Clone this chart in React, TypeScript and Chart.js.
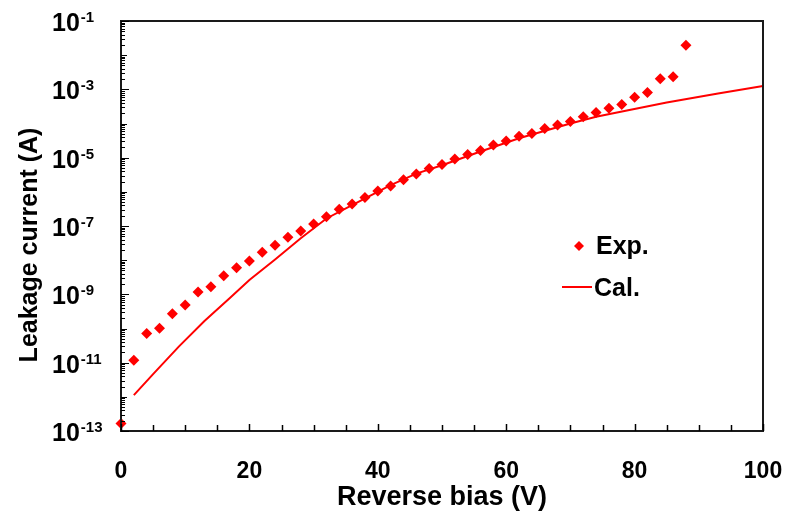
import React, { useEffect, useRef } from "react";
import { Chart, registerables } from "chart.js";

Chart.register(...registerables);

const expBias = [0, 2, 4, 6, 8, 10, 12, 14, 16, 18, 20, 22, 24, 26, 28, 30, 32, 34, 36, 38, 40, 42, 44, 46, 48, 50, 52, 54, 56, 58, 60, 62, 64, 66, 68, 70, 72, 74, 76, 78, 80, 82, 84, 86, 88];
const expCurrent = [
  1.66e-13, 1.17e-11, 7.1e-11, 1.02e-10, 2.7e-10, 4.9e-10, 1.17e-9, 1.66e-9, 3.5e-9, 6.0e-9,
  9.5e-9, 1.7e-8, 2.75e-8, 4.7e-8, 7.1e-8, 1.15e-7, 1.86e-7, 3.1e-7, 4.4e-7, 6.8e-7,
  1.05e-6, 1.48e-6, 2.24e-6, 3.3e-6, 4.8e-6, 6.3e-6, 9.1e-6, 1.23e-5, 1.62e-5, 2.34e-5,
  3.1e-5, 4.2e-5, 5.1e-5, 7.1e-5, 9.1e-5, 1.15e-4, 1.58e-4, 2.1e-4, 2.8e-4, 3.6e-4,
  5.9e-4, 8.1e-4, 2.04e-3, 2.34e-3, 1.95e-2,
];
const calBias = [2, 5, 9, 13, 17, 20, 24, 28, 32, 36, 42, 46, 50, 56, 62, 70, 74, 79, 85, 93, 100];
const calCurrent = [
  1.12e-12, 4.6e-12, 2.95e-11, 1.66e-10, 7.9e-10, 2.63e-9, 1.05e-8, 4.4e-8, 1.66e-7, 4.1e-7,
  1.58e-6, 3.4e-6, 6.0e-6, 1.51e-5, 3.7e-5, 1.0e-4, 1.58e-4, 2.45e-4, 4.1e-4, 7.6e-4, 1.26e-3,
];
const xTickLabels = [0, 20, 40, 60, 80, 100];
const yLabelExponents = [-13, -11, -9, -7, -5, -3, -1];
const xTitle = "Reverse bias (V)";
const yTitle = "Leakage current (A)";
const legendLabels = ["Exp.", "Cal."];

const FONT = '"Liberation Sans", Arial, sans-serif';
const RED = "#ff0000";

const decorPlugin = {
  id: "decor",
  afterDraw(chart: any) {
    const ctx = chart.ctx;
    const area = chart.chartArea;
    const xs = chart.scales.x;
    const ys = chart.scales.y;
    ctx.save();
    // frame
    ctx.strokeStyle = "#1a1a1a";
    ctx.lineWidth = 2;
    ctx.strokeRect(area.left, area.top, area.right - area.left, area.bottom - area.top);

    // x ticks (inward)
    ctx.lineWidth = 1.5;
    ctx.strokeStyle = "#000";
    for (let v = 0; v <= 100; v += 5) {
      const px = Math.round(xs.getPixelForValue(v)) + 0.5;
      const len = v % 20 === 0 ? 7 : 6;
      ctx.beginPath();
      ctx.moveTo(px, area.bottom);
      ctx.lineTo(px, area.bottom - len);
      ctx.stroke();
    }
    // y ticks (inward)
    ctx.lineWidth = 1;
    for (let d = -13; d <= -1; d++) {
      const major = Math.round(ys.getPixelForValue(Math.pow(10, d))) + 0.5;
      const len = d % 2 !== 0 ? 8 : 6;
      ctx.beginPath();
      ctx.moveTo(area.left, major);
      ctx.lineTo(area.left + len, major);
      ctx.stroke();
      if (d < -1) {
        for (let m = 2; m <= 9; m++) {
          const py = Math.round(ys.getPixelForValue(m * Math.pow(10, d))) + 0.5;
          ctx.beginPath();
          ctx.moveTo(area.left, py);
          ctx.lineTo(area.left + 4, py);
          ctx.stroke();
        }
      }
    }

    // x tick labels
    ctx.fillStyle = "#000";
    ctx.font = `bold 23px ${FONT}`;
    ctx.textAlign = "center";
    ctx.textBaseline = "middle";
    for (const v of xTickLabels) {
      ctx.fillText(String(v), xs.getPixelForValue(v), 472);
    }
    // y tick labels 10^n
    for (const e of yLabelExponents) {
      const py = ys.getPixelForValue(Math.pow(10, e));
      ctx.textAlign = "left";
      ctx.textBaseline = "alphabetic";
      ctx.font = `bold 25px ${FONT}`;
      ctx.fillText("10", 52, py + 10);
      const w = ctx.measureText("10").width;
      ctx.font = `bold 15px ${FONT}`;
      ctx.fillText(String(e), 52 + w + 1, py + 1);
    }

    // axis titles
    ctx.font = `bold 27px ${FONT}`;
    ctx.textAlign = "center";
    ctx.textBaseline = "middle";
    ctx.fillText(xTitle, 442, 498);
    ctx.save();
    ctx.translate(30, 245);
    ctx.rotate(-Math.PI / 2);
    ctx.font = `bold 25px ${FONT}`;
    ctx.fillText(yTitle, 0, 0);
    ctx.restore();

    // legend
    ctx.fillStyle = RED;
    ctx.beginPath();
    ctx.moveTo(579, 241);
    ctx.lineTo(584, 246);
    ctx.lineTo(579, 251);
    ctx.lineTo(574, 246);
    ctx.closePath();
    ctx.fill();
    ctx.strokeStyle = RED;
    ctx.lineWidth = 2;
    ctx.beginPath();
    ctx.moveTo(562, 287);
    ctx.lineTo(592, 287);
    ctx.stroke();
    ctx.fillStyle = "#000";
    ctx.font = `bold 25px ${FONT}`;
    ctx.textAlign = "left";
    ctx.textBaseline = "middle";
    ctx.fillText(legendLabels[0], 596, 247);
    ctx.fillText(legendLabels[1], 594, 289);
    ctx.restore();
  },
};

export default function App() {
  const ref = useRef<HTMLCanvasElement | null>(null);
  useEffect(() => {
    if (!ref.current) return;
    const chart = new Chart(ref.current, {
      type: "scatter",
      data: {
        datasets: [
          {
            label: legendLabels[1],
            data: calBias.map((v, i) => ({ x: v, y: calCurrent[i] })),
            showLine: true,
            borderColor: RED,
            borderWidth: 2,
            pointRadius: 0,
            tension: 0,
            clip: false,
          } as any,
          {
            label: legendLabels[0],
            data: expBias.map((v, i) => ({ x: v, y: expCurrent[i] })),
            showLine: false,
            pointStyle: "rectRot",
            pointRadius: 5.5,
            backgroundColor: RED,
            borderColor: RED,
            borderWidth: 0,
            clip: false,
          } as any,
        ],
      },
      options: {
        responsive: false,
        animation: false,
        layout: { padding: { left: 121, right: 25, top: 21, bottom: 85 } },
        plugins: { legend: { display: false }, tooltip: { enabled: false } },
        scales: {
          x: { type: "linear", min: 0, max: 100, display: false },
          y: { type: "logarithmic", min: 1e-13, max: 1e-1, display: false },
        },
      },
      plugins: [decorPlugin],
    });
    return () => chart.destroy();
  }, []);
  return (
    <div style={{ position: "fixed", left: 0, top: 0, width: 788, height: 516, background: "#fff" }}>
      <canvas ref={ref} width={788} height={516} />
    </div>
  );
}
